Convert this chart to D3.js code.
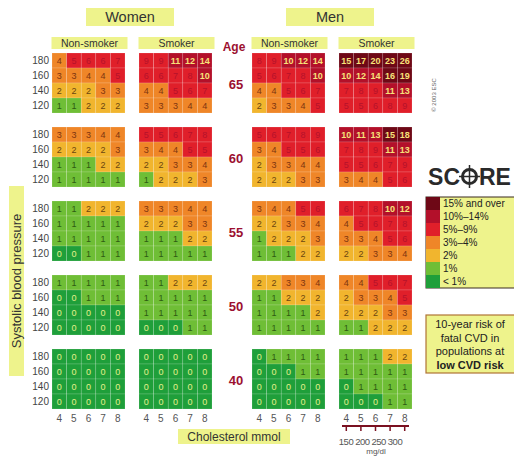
<!DOCTYPE html>
<html>
<head>
<meta charset="utf-8">
<script src="https://cdn.jsdelivr.net/npm/d3@7"></script>
<style>
  body { margin: 0; background: #fff; }
  text { font-family: 'Liberation Sans', Arial, sans-serif; }
</style>
</head>
<body>
<div id="chart"></div>
<script>
// SCORE chart, low risk regions
var ages = [65, 60, 55, 50, 40]
var sbp = [180, 160, 140, 120]
var chol = [4, 5, 6, 7, 8]
var mgdl = [150, 200, 250, 300]
var panels = ['wn', 'ws', 'mn', 'ms']
var smokeLabels = ['Non-smoker', 'Smoker', 'Non-smoker', 'Smoker']
var sexLabels = ['Women', 'Men']
var legendLabels = ['15% and over', '10%–14%', '5%–9%', '3%–4%', '2%', '1%', '< 1%']
var noteLines = ['10-year risk of', 'fatal CVD in', 'populations at', 'low CVD risk']

// one block per age (65, 60, 55, 50, 40), rows sbp 180..120, cols chol 4..8
var womenNonSmoker = [
  [[4, 5, 6, 6, 7], [3, 3, 4, 4, 5], [2, 2, 2, 3, 3], [1, 1, 2, 2, 2]],
  [[3, 3, 3, 4, 4], [2, 2, 2, 2, 3], [1, 1, 1, 2, 2], [1, 1, 1, 1, 1]],
  [[1, 1, 2, 2, 2], [1, 1, 1, 1, 1], [1, 1, 1, 1, 1], [0, 0, 1, 1, 1]],
  [[1, 1, 1, 1, 1], [0, 0, 1, 1, 1], [0, 0, 0, 0, 0], [0, 0, 0, 0, 0]],
  [[0, 0, 0, 0, 0], [0, 0, 0, 0, 0], [0, 0, 0, 0, 0], [0, 0, 0, 0, 0]]
]
var womenSmoker = [
  [[9, 9, 11, 12, 14], [6, 6, 7, 8, 10], [4, 4, 5, 6, 7], [3, 3, 3, 4, 4]],
  [[5, 5, 6, 7, 8], [3, 4, 4, 5, 5], [2, 2, 3, 3, 4], [1, 2, 2, 2, 3]],
  [[3, 3, 3, 4, 4], [2, 2, 2, 3, 3], [1, 1, 1, 2, 2], [1, 1, 1, 1, 1]],
  [[1, 1, 2, 2, 2], [1, 1, 1, 1, 1], [1, 1, 1, 1, 1], [0, 0, 0, 1, 1]],
  [[0, 0, 0, 0, 0], [0, 0, 0, 0, 0], [0, 0, 0, 0, 0], [0, 0, 0, 0, 0]]
]
var menNonSmoker = [
  [[8, 9, 10, 12, 14], [5, 6, 7, 8, 10], [4, 4, 5, 6, 7], [2, 3, 3, 4, 5]],
  [[5, 6, 7, 8, 9], [3, 4, 5, 5, 6], [2, 3, 3, 4, 4], [2, 2, 2, 3, 3]],
  [[3, 4, 4, 5, 6], [2, 2, 3, 3, 4], [1, 2, 2, 2, 3], [1, 1, 1, 2, 2]],
  [[2, 2, 3, 3, 4], [1, 1, 2, 2, 2], [1, 1, 1, 1, 2], [1, 1, 1, 1, 1]],
  [[0, 1, 1, 1, 1], [0, 0, 0, 1, 1], [0, 0, 0, 0, 0], [0, 0, 0, 0, 0]]
]
var menSmoker = [
  [[15, 17, 20, 23, 26], [10, 12, 14, 16, 19], [7, 8, 9, 11, 13], [5, 5, 6, 8, 9]],
  [[10, 11, 13, 15, 18], [7, 8, 9, 11, 13], [5, 5, 6, 7, 9], [3, 4, 4, 5, 6]],
  [[6, 7, 8, 10, 12], [4, 5, 6, 7, 8], [3, 3, 4, 5, 6], [2, 2, 3, 3, 4]],
  [[4, 4, 5, 6, 7], [2, 3, 3, 4, 5], [2, 2, 2, 3, 3], [1, 1, 2, 2, 2]],
  [[1, 1, 1, 2, 2], [1, 1, 1, 1, 1], [0, 1, 1, 1, 1], [0, 0, 0, 1, 1]]
]
var risk = { wn: womenNonSmoker, ws: womenSmoker, mn: menNonSmoker, ms: menSmoker }

var width = 514
var height = 456

var svg = d3
  .select('#chart')
  .append('svg')
  .attr('width', width)
  .attr('height', height)

var headFill = '#eef38c'

var colorScale = d3
  .scaleThreshold()
  .domain([1, 2, 3, 5, 10, 15])
  .range(['#1f9f3a', '#6fbe36', '#f1b52e', '#ef8628', '#e01f2a', '#b3102a', '#6e0816'])

function textColor(v) {
  if (v >= 10) return '#f7e27a'
  if (v >= 5) return '#b5122a'
  if (v >= 3) return '#7d3510'
  if (v === 2) return '#6b4510'
  if (v === 1) return '#2e5a12'
  return '#e4f08a'
}

var panelX = d3.scaleOrdinal().domain(panels).range([52, 139, 252, 339])
var xCol = d3.scaleBand().domain(chol).range([0, 73])
var yAge = d3.scaleBand().domain(ages).range([53, 409]).paddingInner(14 / 74)
var yRow = d3.scaleBand().domain(sbp).range([0, yAge.bandwidth()])

// cells
var cells = []
panels.forEach(p => {
  ages.forEach((a, ai) => {
    sbp.forEach((s, si) => {
      chol.forEach((c, ci) => {
        cells.push({ panel: p, age: a, sbp: s, chol: c, value: risk[p][ai][si][ci] })
      })
    })
  })
})

var cellG = svg
  .selectAll('.cell')
  .data(cells)
  .enter()
  .append('g')
  .attr('class', 'cell')
  .attr('transform', d => `translate(${panelX(d.panel) + xCol(d.chol)},${yAge(d.age) + yRow(d.sbp)})`)

cellG
  .append('rect')
  .attr('width', xCol.bandwidth())
  .attr('height', yRow.bandwidth())
  .attr('fill', d => colorScale(d.value))
  .attr('stroke', 'rgba(255,255,255,0.25)')
  .attr('stroke-width', 0.6)

cellG
  .append('text')
  .text(d => d.value)
  .attr('x', xCol.bandwidth() / 2)
  .attr('y', yRow.bandwidth() / 2 + 3)
  .attr('text-anchor', 'middle')
  .attr('font-size', 9)
  .attr('font-weight', d => (d.value >= 10 ? 700 : 400))
  .attr('fill', d => textColor(d.value))

// sbp labels on the left of each women non-smoker block
ages.forEach(a => {
  svg
    .selectAll('.sbp-' + a)
    .data(sbp)
    .enter()
    .append('text')
    .text(d => d)
    .attr('x', 49)
    .attr('y', d => yAge(a) + yRow(d) + yRow.bandwidth() / 2 + 3.5)
    .attr('text-anchor', 'end')
    .attr('font-size', 10)
    .attr('fill', '#444')
})

// age labels
svg
  .selectAll('.age-text')
  .data(ages)
  .enter()
  .append('text')
  .text(d => d)
  .attr('x', 236)
  .attr('y', d => yAge(d) + yAge.bandwidth() / 2 + 6)
  .attr('text-anchor', 'middle')
  .attr('font-size', 13)
  .attr('font-weight', 700)
  .attr('fill', '#9c1030')

svg
  .append('text')
  .text('Age')
  .attr('x', 234)
  .attr('y', 51)
  .attr('text-anchor', 'middle')
  .attr('font-size', 12)
  .attr('font-weight', 700)
  .attr('fill', '#9c1030')

// cholesterol ticks
panels.forEach(p => {
  svg
    .selectAll('.chol-' + p)
    .data(chol)
    .enter()
    .append('text')
    .text(d => d)
    .attr('x', d => panelX(p) + xCol(d) + xCol.bandwidth() / 2)
    .attr('y', 422)
    .attr('text-anchor', 'middle')
    .attr('font-size', 10)
    .attr('fill', '#555')
})

// smoker headers
panels.forEach((p, i) => {
  let cx = panelX(p) + 73 / 2 + 1
  svg
    .append('rect')
    .attr('x', cx - 38)
    .attr('y', 37)
    .attr('width', 76)
    .attr('height', 12)
    .attr('fill', headFill)
  svg
    .append('text')
    .text(smokeLabels[i])
    .attr('x', cx)
    .attr('y', 47)
    .attr('text-anchor', 'middle')
    .attr('font-size', 10.5)
    .attr('fill', '#333')
})

// sex headers
sexLabels.forEach((s, i) => {
  let x0 = panelX(panels[i * 2])
  let x1 = panelX(panels[i * 2 + 1]) + 73
  let cx = (x0 + x1) / 2 - 2
  svg
    .append('rect')
    .attr('x', cx - 44)
    .attr('y', 8)
    .attr('width', 88)
    .attr('height', 18)
    .attr('fill', headFill)
  svg
    .append('text')
    .text(s)
    .attr('x', cx)
    .attr('y', 22)
    .attr('text-anchor', 'middle')
    .attr('font-size', 14.5)
    .attr('fill', '#333')
})

// systolic blood pressure label
svg
  .append('rect')
  .attr('x', 9)
  .attr('y', 186)
  .attr('width', 15)
  .attr('height', 190)
  .attr('fill', headFill)
svg
  .append('text')
  .text('Systolic blood pressure')
  .attr('transform', 'translate(20.5,281) rotate(-90)')
  .attr('text-anchor', 'middle')
  .attr('font-size', 13)
  .attr('fill', '#333')

// cholesterol label
svg
  .append('rect')
  .attr('x', 178)
  .attr('y', 429)
  .attr('width', 112)
  .attr('height', 15)
  .attr('fill', headFill)
svg
  .append('text')
  .text('Cholesterol  mmol')
  .attr('x', 234)
  .attr('y', 441)
  .attr('text-anchor', 'middle')
  .attr('font-size', 12)
  .attr('fill', '#333')

// mg/dl scale under men smoker
var msX = panelX('ms')
var mgScale = d3.scaleLinear().domain([150, 300]).range([msX + 7, msX + 56])
svg
  .append('line')
  .attr('x1', msX + 3)
  .attr('x2', msX + 70)
  .attr('y1', 426)
  .attr('y2', 426)
  .attr('stroke', '#7a1020')
  .attr('stroke-width', 2)
svg
  .selectAll('.mg-tick')
  .data(chol)
  .enter()
  .append('line')
  .attr('x1', d => msX + xCol(d) + xCol.bandwidth() / 2)
  .attr('x2', d => msX + xCol(d) + xCol.bandwidth() / 2)
  .attr('y1', 426)
  .attr('y2', 431)
  .attr('stroke', '#7a1020')
  .attr('stroke-width', 1.5)
svg
  .selectAll('.mg-text')
  .data(mgdl)
  .enter()
  .append('text')
  .text(d => d)
  .attr('x', d => mgScale(d))
  .attr('y', 445)
  .attr('text-anchor', 'middle')
  .attr('font-size', 9.5)
  .attr('letter-spacing', -0.5)
  .attr('fill', '#555')
svg
  .append('text')
  .text('mg/dl')
  .attr('x', msX + 37)
  .attr('y', 454)
  .attr('text-anchor', 'middle')
  .attr('font-size', 8)
  .attr('fill', '#555')

// copyright
svg
  .append('text')
  .text('© 2003 ESC')
  .attr('transform', 'translate(436,95) rotate(-90)')
  .attr('text-anchor', 'middle')
  .attr('font-size', 6)
  .attr('fill', '#666')

// SCORE logo
var logo = svg.append('g')
logo
  .append('text')
  .text('SC')
  .attr('x', 460)
  .attr('y', 185)
  .attr('text-anchor', 'end')
  .attr('font-size', 23)
  .attr('font-weight', 700)
  .attr('fill', '#2a2a2a')
logo
  .append('text')
  .text('RE')
  .attr('x', 479)
  .attr('y', 185)
  .attr('text-anchor', 'start')
  .attr('font-size', 23)
  .attr('font-weight', 700)
  .attr('fill', '#2a2a2a')
logo
  .append('circle')
  .attr('cx', 469.5)
  .attr('cy', 176.5)
  .attr('r', 7)
  .attr('fill', 'none')
  .attr('stroke', '#2a2a2a')
  .attr('stroke-width', 3)
logo
  .append('line')
  .attr('x1', 469.5)
  .attr('x2', 469.5)
  .attr('y1', 165)
  .attr('y2', 188)
  .attr('stroke', '#2a2a2a')
  .attr('stroke-width', 1.5)
logo
  .append('line')
  .attr('x1', 459)
  .attr('x2', 480)
  .attr('y1', 176.5)
  .attr('y2', 176.5)
  .attr('stroke', '#2a2a2a')
  .attr('stroke-width', 1.5)

// legend
var legendColors = [20, 12, 7, 4, 2, 1, 0].map(v => colorScale(v))
var legend = svg.append('g').attr('transform', 'translate(426,197)')
legend
  .append('rect')
  .attr('width', 90)
  .attr('height', 91)
  .attr('fill', headFill)
  .attr('stroke', '#3a2a20')
  .attr('stroke-width', 1)
legend
  .selectAll('.swatch')
  .data(legendLabels)
  .enter()
  .append('rect')
  .attr('x', 0)
  .attr('y', (d, i) => i * 13)
  .attr('width', 14)
  .attr('height', 13)
  .attr('fill', (d, i) => legendColors[i])
legend
  .selectAll('.legend-text')
  .data(legendLabels)
  .enter()
  .append('text')
  .text(d => d)
  .attr('x', 17)
  .attr('y', (d, i) => i * 13 + 10)
  .attr('font-size', 10)
  .attr('fill', '#222')

// note box
var note = svg.append('g').attr('transform', 'translate(426,315)')
note
  .append('rect')
  .attr('width', 90)
  .attr('height', 58)
  .attr('fill', headFill)
  .attr('stroke', '#b07436')
  .attr('stroke-width', 1.2)
note
  .selectAll('.note-text')
  .data(noteLines)
  .enter()
  .append('text')
  .text(d => d)
  .attr('x', 44)
  .attr('y', (d, i) => 13 + i * 13.5)
  .attr('text-anchor', 'middle')
  .attr('font-size', 11)
  .attr('font-weight', (d, i) => (i === 3 ? 700 : 400))
  .attr('fill', '#222')
</script>
</body>
</html>
